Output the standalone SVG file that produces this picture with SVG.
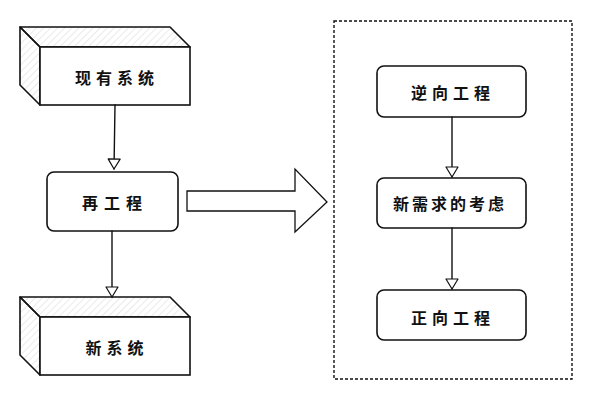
<svg xmlns="http://www.w3.org/2000/svg" width="592" height="400" viewBox="0 0 592 400">
  <defs>
    <pattern id="hatch" patternUnits="userSpaceOnUse" width="5" height="5" patternTransform="rotate(45)">
      <line x1="0" y1="0" x2="0" y2="5" stroke="#d6d6d6" stroke-width="1"/>
    </pattern>
    <marker id="arr" viewBox="0 0 12 14" refX="11" refY="7" markerWidth="12" markerHeight="14" markerUnits="userSpaceOnUse" orient="auto">
      <path d="M1,1 L11,7 L1,13 Z" fill="#fff" stroke="#111" stroke-width="1.2" stroke-linejoin="round"/>
    </marker>
  </defs>
  <style>
    .edge { fill: none; stroke: #111; stroke-width: 1.4; stroke-linecap: round; }
    .box { fill: #fff; stroke: #111; stroke-width: 1.6; }
    .side { fill: url(#hatch); stroke: #111; stroke-width: 1.6; stroke-linejoin: round; }
    .lbl { font-family: "Noto Sans CJK SC", "Noto Sans", sans-serif; font-weight: bold; font-size: 16px; fill: #111; text-anchor: middle; dominant-baseline: central; }
    .frame { fill: none; stroke: #111; stroke-width: 1.4; stroke-dasharray: 3 2; }
  </style>
  <rect width="592" height="400" fill="#fff"/>

  <g id="container">
    <rect class="frame" x="334" y="21" width="238" height="358"/>
  </g>

  <g id="existing-system">
    <path class="side" d="M20,27 L170,27 L190,47 L40,47 Z"/>
    <path class="side" d="M20,27 L40,47 L40,105 L20,85 Z"/>
    <rect class="box" x="40" y="47" width="150" height="58"/>
    <text class="lbl" x="117" y="77" font-size="17" letter-spacing="5">现有系统</text>
  </g>

  <g id="reengineering">
    <rect class="box" x="47" y="172" width="131" height="59" rx="7"/>
    <text class="lbl" x="115" y="202" font-size="17" letter-spacing="6">再工程</text>
  </g>

  <g id="new-system">
    <path class="side" d="M20,297 L170,297 L190,317 L40,317 Z"/>
    <path class="side" d="M20,297 L40,317 L40,375 L20,355 Z"/>
    <rect class="box" x="40" y="317" width="150" height="58"/>
    <text class="lbl" x="117" y="347" font-size="17" letter-spacing="5">新系统</text>
  </g>

  <g id="big-arrow">
    <path d="M187,191 L295,191 L295,169 L327,202 L295,232 L295,211 L187,211 Z" fill="#fff" stroke="#111" stroke-width="1.3" stroke-linejoin="miter"/>
  </g>

  <g id="reverse-engineering">
    <rect class="box" x="377" y="66" width="149" height="51" rx="7"/>
    <text class="lbl" x="453" y="92" letter-spacing="5">逆向工程</text>
  </g>

  <g id="new-requirements">
    <rect class="box" x="377" y="178" width="149" height="50" rx="7"/>
    <text class="lbl" x="450" y="203" letter-spacing="3">新需求的考虑</text>
  </g>

  <g id="forward-engineering">
    <rect class="box" x="377" y="290" width="149" height="50" rx="7"/>
    <text class="lbl" x="453" y="317" letter-spacing="5">正向工程</text>
  </g>

  <g id="connectors">
    <path class="edge" d="M115,105 L114,169" marker-end="url(#arr)"/>
    <path class="edge" d="M112,231 L112,297" marker-end="url(#arr)"/>
    <path class="edge" d="M452,117 L452,177" marker-end="url(#arr)"/>
    <path class="edge" d="M452,228 L452,289" marker-end="url(#arr)"/>
  </g>
</svg>
